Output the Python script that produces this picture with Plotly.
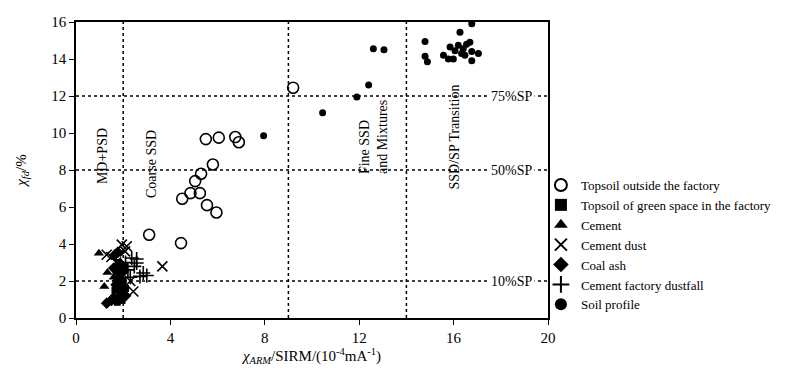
import plotly.graph_objects as go

# ---- data ----
topsoil_out_x = [9.2, 5.5, 6.05, 6.75, 6.9, 5.8, 5.3, 5.05, 4.85, 5.25, 4.5, 5.55, 5.95, 3.1, 4.45]
topsoil_out_y = [12.45, 9.67, 9.75, 9.78, 9.5, 8.3, 7.8, 7.4, 6.75, 6.75, 6.45, 6.1, 5.7, 4.5, 4.05]

green_x = [1.8, 1.85, 1.95, 1.7, 2.0, 1.9, 1.75, 2.05, 1.65, 2.1, 1.8, 1.95]
green_y = [1.0, 2.3, 1.7, 2.5, 2.0, 1.3, 0.85, 2.8, 1.5, 1.6, 3.0, 0.95]

cement_x = [0.97, 1.33, 1.2, 1.6, 1.8, 1.9, 1.7, 2.0]
cement_y = [3.5, 2.46, 1.7, 2.2, 1.2, 2.6, 0.9, 1.8]

dust_x = [1.3, 1.94, 2.15, 2.08, 3.66, 2.43, 1.5, 1.7, 2.3, 1.9]
dust_y = [3.42, 3.97, 3.88, 3.6, 2.79, 1.43, 3.3, 3.0, 2.0, 2.2]

ash_x = [1.3, 1.65, 1.77, 1.5, 1.6, 1.85, 1.75, 2.0, 1.9, 1.6, 1.7, 2.1]
ash_y = [0.8, 3.42, 3.55, 0.95, 1.1, 1.5, 2.0, 2.5, 2.9, 2.7, 1.8, 1.2]

dustfall_x = [2.57, 2.47, 2.85, 2.71, 2.36, 2.57, 2.2, 2.3, 3.0, 2.1]
dustfall_y = [3.19, 2.79, 2.43, 2.25, 3.24, 2.97, 2.6, 2.2, 2.3, 3.0]

profile_x = [7.95, 10.45, 11.9, 12.4, 12.6, 13.05, 16.77, 16.27, 14.79, 14.79, 14.89,
             15.57, 15.78, 15.85, 16.06, 16.2, 16.41, 16.69, 16.77, 17.05, 16.77,
             16.48, 15.99, 16.34, 16.55]
profile_y = [9.85, 11.1, 11.95, 12.6, 14.55, 14.5, 15.9, 15.45, 14.95, 14.15, 13.85,
             14.2, 14.0, 14.65, 14.45, 14.75, 14.55, 14.9, 14.4, 14.3, 13.9,
             14.2, 14.0, 14.3, 14.8]

x_ticks = [0, 4, 8, 12, 16, 20]
y_ticks = [0, 2, 4, 6, 8, 10, 12, 14, 16]

domain_x = [2, 9, 14]
sp_levels = [2, 8, 12]
sp_labels = ["10%SP", "50%SP", "75%SP"]

zone_labels = ["MD+PSD", "Coarse SSD", "Fine SSD<br>and Mixtures", "SSD/SP Transition"]
zone_x = [1.1, 3.2, 12.6, 16.05]
zone_y = [8.75, 8.3, 9.8, 9.8]

FONT = "Times New Roman, Liberation Serif, serif"

fig = go.Figure()

def add(name, xs, ys, symbol, size, line_w=0, color="black"):
    fig.add_trace(go.Scatter(
        x=xs, y=ys, mode="markers", name=name,
        marker=dict(symbol=symbol, size=size, color=color,
                    line=dict(color="black", width=line_w)),
    ))

add("Topsoil outside the factory", topsoil_out_x, topsoil_out_y, "circle-open", 11, 1.6)
add("Topsoil of green space in the factory", green_x, green_y, "square", 7)
add("Cement", cement_x, cement_y, "triangle-up", 9)
add("Cement dust", dust_x, dust_y, "x-thin-open", 10, 1.6)
add("Coal ash", ash_x, ash_y, "diamond", 9)
add("Cement factory dustfall", dustfall_x, dustfall_y, "cross-thin-open", 10, 1.6)
add("Soil profile", profile_x, profile_y, "circle", 7)

shapes = []
for xv in domain_x:
    shapes.append(dict(type="line", xref="x", yref="y", x0=xv, x1=xv, y0=0, y1=16,
                       line=dict(color="black", width=1.5, dash="dot"), layer="below"))
for yv in sp_levels:
    shapes.append(dict(type="line", xref="x", yref="y", x0=0, x1=20, y0=yv, y1=yv,
                       line=dict(color="black", width=1.5, dash="dot"), layer="below"))

annotations = []
for yv, lab in zip(sp_levels, sp_labels):
    annotations.append(dict(x=18.45, y=yv, xref="x", yref="y", text=lab, showarrow=False,
                            bgcolor="white", font=dict(family=FONT, size=14, color="black"),
                            borderpad=2))
for lab, xv, yv in zip(zone_labels, zone_x, zone_y):
    annotations.append(dict(x=xv, y=yv, xref="x", yref="y", text=lab, showarrow=False,
                            textangle=-90, align="left",
                            font=dict(family=FONT, size=14, color="black")))

# the page adds an 8px body margin, so the figure is 8px smaller and margins shifted
fig.update_layout(
    width=792, height=371,
    margin=dict(l=68, r=252, t=14, b=61, autoexpand=False),
    paper_bgcolor="white", plot_bgcolor="white",
    font=dict(family=FONT, size=15, color="black"),
    shapes=shapes, annotations=annotations,
    showlegend=True,
    legend=dict(x=0.985, y=0.50, xanchor="left", yanchor="top",
                font=dict(family=FONT, size=13, color="black"),
                bgcolor="rgba(0,0,0,0)", itemsizing="constant", tracegroupgap=0),
    xaxis=dict(range=[0, 20], tickvals=x_ticks, showgrid=False, zeroline=False,
               showline=True, linecolor="black", linewidth=1.5, mirror=True,
               ticks="outside", ticklen=5, tickcolor="black", automargin=False,
               title=dict(text="<i>χ</i><sub><i>ARM</i></sub>/SIRM/(10<sup>-4</sup>mA<sup>-1</sup>)",
                          font=dict(family=FONT, size=15), standoff=1)),
    yaxis=dict(range=[0, 16], tickvals=y_ticks, showgrid=False, zeroline=False,
               showline=True, linecolor="black", linewidth=1.5, mirror=True,
               ticks="outside", ticklen=5, tickcolor="black", automargin=False,
               title=dict(text="<i>χ</i><sub><i>fd</i></sub>/%",
                          font=dict(family=FONT, size=15), standoff=21)),
)

fig.write_html("out.html")
